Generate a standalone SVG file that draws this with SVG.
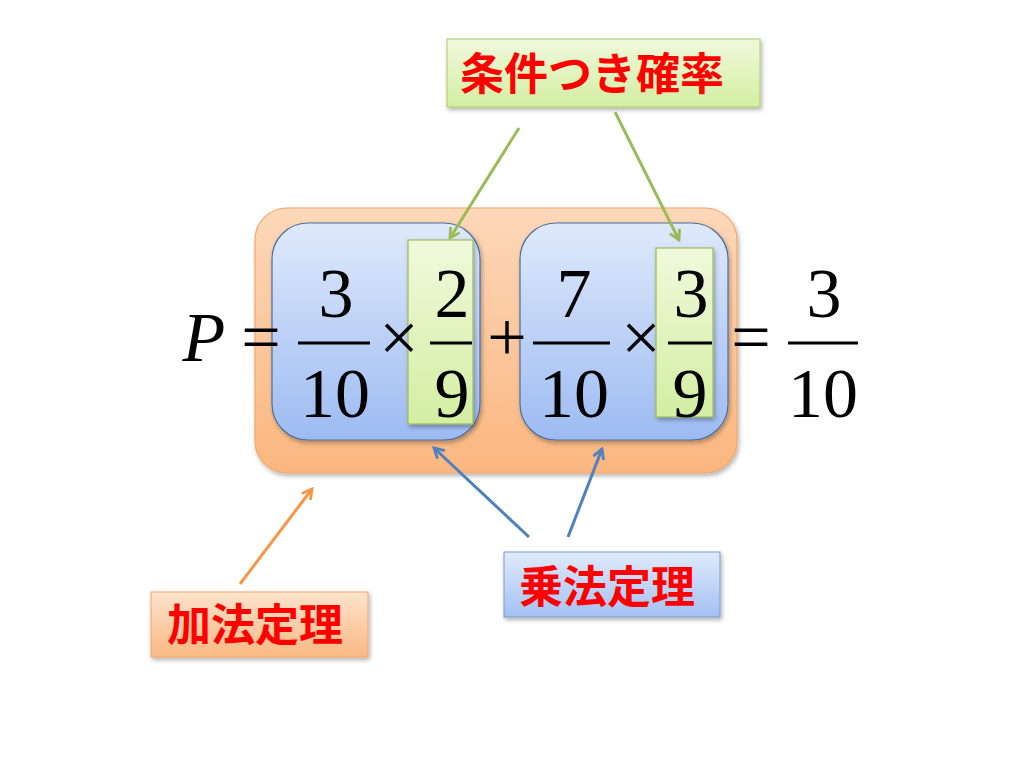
<svg xmlns="http://www.w3.org/2000/svg" width="1024" height="768" viewBox="0 0 1024 768">
<style>
.m{font-size:70px;fill:#000;text-anchor:middle}
.lab{font-family:"Noto Sans CJK JP","Noto Sans CJK SC",sans-serif;font-weight:bold;font-size:44px;fill:#ff0000;text-anchor:middle}
.bar{stroke:#000;stroke-width:3}
.blue{fill:url(#gBlue);stroke:#4a6f9e;stroke-width:1.2}
.green{fill:url(#gGreen);stroke:#9bbb59;stroke-width:1.2}
</style>
<defs>
<linearGradient id="gOrange" x1="0" y1="0" x2="0" y2="1"><stop offset="0" stop-color="#fdd8b9"/><stop offset="1" stop-color="#fab67f"/></linearGradient>
<linearGradient id="gBlue" x1="0" y1="0" x2="0" y2="1"><stop offset="0" stop-color="#dfe9fb"/><stop offset="1" stop-color="#9dbbf2"/></linearGradient>
<linearGradient id="gGreen" x1="0" y1="0" x2="0" y2="1"><stop offset="0" stop-color="#f0f9dc"/><stop offset="1" stop-color="#d3eea2"/></linearGradient>
<linearGradient id="gOrangeL" x1="0" y1="0" x2="0" y2="1"><stop offset="0" stop-color="#fde3cd"/><stop offset="1" stop-color="#fab883"/></linearGradient>
<linearGradient id="gBlueL" x1="0" y1="0" x2="0" y2="1"><stop offset="0" stop-color="#e0eafb"/><stop offset="1" stop-color="#a3c1f3"/></linearGradient>
<filter id="sh" x="-10%" y="-10%" width="125%" height="130%"><feDropShadow dx="1.5" dy="2.5" stdDeviation="2" flood-color="#000" flood-opacity="0.3"/></filter>
<marker id="aG" viewBox="0 0 12 12" refX="10" refY="6" markerWidth="13" markerHeight="13" markerUnits="userSpaceOnUse" orient="auto"><path d="M1,1 L10,6 L1,11" fill="none" stroke="#9bbb59" stroke-width="2.6"/></marker>
<marker id="aO" viewBox="0 0 12 12" refX="10" refY="6" markerWidth="13" markerHeight="13" markerUnits="userSpaceOnUse" orient="auto"><path d="M1,1 L10,6 L1,11" fill="none" stroke="#f79646" stroke-width="2.6"/></marker>
<marker id="aB" viewBox="0 0 12 12" refX="10" refY="6" markerWidth="13" markerHeight="13" markerUnits="userSpaceOnUse" orient="auto"><path d="M1,1 L10,6 L1,11" fill="none" stroke="#4f81bd" stroke-width="2.6"/></marker>
</defs>
<rect width="1024" height="768" fill="#fff"/>

<g id="addition-group">
<rect x="255" y="208" width="482" height="265" rx="32" fill="url(#gOrange)" stroke="#f5a66a" stroke-width="1.2" filter="url(#sh)"/>
</g>
<g id="product-1">
<rect class="blue" x="272" y="223" width="208" height="217" rx="36" filter="url(#sh)"/>
<rect class="green" x="408" y="240" width="65" height="184" filter="url(#sh)"/>
</g>
<g id="product-2">
<rect class="blue" x="520" y="223" width="208" height="217" rx="36" filter="url(#sh)"/>
<rect class="green" x="656" y="248" width="57" height="169" filter="url(#sh)"/>
</g>

<g id="equation" font-family="Liberation Serif, DejaVu Serif, Times New Roman, serif">
<text x="204" y="361" class="m" font-style="italic" font-size="72">P</text>
<text x="261" y="361" class="m">=</text>
<text x="336" y="317" class="m">3</text>
<line class="bar" x1="298" y1="343" x2="370" y2="343"/>
<text x="335" y="417" class="m">10</text>
<text x="399" y="361" class="m">×</text>
<text x="452" y="317" class="m">2</text>
<line class="bar" x1="430" y1="343" x2="472" y2="343"/>
<text x="452" y="417" class="m">9</text>
<text x="507" y="361" class="m">+</text>
<text x="574" y="317" class="m">7</text>
<line class="bar" x1="533" y1="343" x2="610" y2="343"/>
<text x="574" y="417" class="m">10</text>
<text x="641" y="361" class="m">×</text>
<text x="691" y="317" class="m">3</text>
<line class="bar" x1="668" y1="343" x2="712" y2="343"/>
<text x="690" y="417" class="m">9</text>
<text x="751" y="361" class="m">=</text>
<text x="824" y="317" class="m">3</text>
<line class="bar" x1="788" y1="343" x2="858" y2="343"/>
<text x="823" y="417" class="m">10</text>
</g>

<g id="label-conditional">
<rect x="447" y="39" width="313" height="68" fill="url(#gGreen)" stroke="#a9c96e" stroke-width="1" filter="url(#sh)"/>
<text x="592" y="90" class="lab">条件つき確率</text>
</g>
<g id="label-multiplication">
<rect x="504" y="552" width="216" height="65" fill="url(#gBlueL)" stroke="#7b9bc9" stroke-width="1" filter="url(#sh)"/>
<text x="607" y="603" class="lab">乗法定理</text>
</g>
<g id="label-addition">
<rect x="151" y="592" width="217" height="65" fill="url(#gOrangeL)" stroke="#f3a66b" stroke-width="1" filter="url(#sh)"/>
<text x="255" y="641" class="lab">加法定理</text>
</g>

<g id="connectors" fill="none" stroke-width="3">
<line x1="519" y1="128" x2="450" y2="238" stroke="#9bbb59" marker-end="url(#aG)"/>
<line x1="615" y1="112" x2="679" y2="240" stroke="#9bbb59" marker-end="url(#aG)"/>
<line x1="240" y1="584" x2="312" y2="489" stroke="#f79646" marker-end="url(#aO)"/>
<line x1="529" y1="537" x2="434" y2="448" stroke="#4f81bd" marker-end="url(#aB)"/>
<line x1="568" y1="537" x2="602" y2="449" stroke="#4f81bd" marker-end="url(#aB)"/>
</g>
</svg>
